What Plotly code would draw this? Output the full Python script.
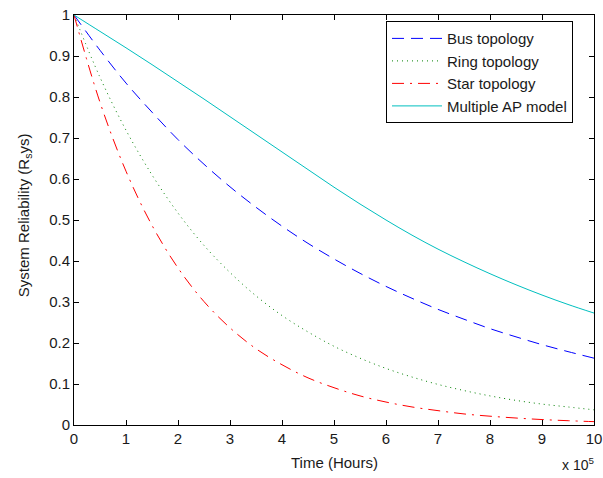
import plotly.graph_objects as go

# Time in units of 10^5 hours
time_1e5 = [0, 0.5, 1, 1.5, 2, 2.5, 3, 3.5, 4, 4.5, 5, 5.5, 6, 6.5, 7, 7.5, 8, 8.5, 9, 9.5, 10]

bus = [1, 0.914, 0.834, 0.763, 0.696, 0.636, 0.581, 0.531, 0.485, 0.443, 0.405,
       0.370, 0.338, 0.309, 0.282, 0.258, 0.235, 0.215, 0.196, 0.179, 0.163]
ring = [1, 0.848, 0.719, 0.610, 0.517, 0.438, 0.372, 0.315, 0.267, 0.227, 0.192,
        0.163, 0.138, 0.117, 0.099, 0.084, 0.071, 0.060, 0.051, 0.044, 0.037]
star = [1, 0.787, 0.619, 0.487, 0.383, 0.301, 0.237, 0.186, 0.147, 0.115, 0.091,
        0.071, 0.056, 0.044, 0.035, 0.027, 0.0215, 0.017, 0.0133, 0.0105, 0.0082]
multi_ap = [1, 0.960, 0.920, 0.879, 0.837, 0.795, 0.752, 0.709, 0.666, 0.623, 0.580,
            0.539, 0.500, 0.463, 0.429, 0.398, 0.369, 0.342, 0.317, 0.294, 0.273]

names = ["Bus topology", "Ring topology", "Star topology", "Multiple AP model"]
x_ticks = list(range(0, 11))
y_ticks = [0, 0.1, 0.2, 0.3, 0.4, 0.5, 0.6, 0.7, 0.8, 0.9, 1]

FONT = "Liberation Sans, Arial, sans-serif"
TXT = "#1a1a1a"

fig = go.Figure()
styles = [
    (bus, "#0000FF", "12px,7px"),
    (ring, "#008000", "1px,4px"),
    (star, "#FF0000", "12px,6px,2px,6px"),
    (multi_ap, "#00BFBF", "solid"),
]
for (vals, color, dash), name in zip(styles, names):
    fig.add_trace(go.Scatter(
        x=time_1e5, y=vals, mode="lines", name=name,
        line=dict(color=color, width=1, dash=dash, shape="spline"),
    ))

axis_common = dict(
    showgrid=False, zeroline=False, showline=True, linecolor="#000000", linewidth=1,
    mirror="ticks", ticks="inside", ticklen=5, tickcolor="#000000",
    tickfont=dict(family=FONT, size=15, color=TXT),
)
fig.update_xaxes(range=[0, 10], tickvals=x_ticks, ticktext=[str(v) for v in x_ticks], **axis_common)
fig.update_yaxes(range=[0, 1], tickvals=y_ticks, ticktext=[("%g" % v) for v in y_ticks], **axis_common)

fig.update_layout(
    width=603, height=478,
    margin=dict(l=74, r=9, t=15, b=53, autoexpand=False),
    paper_bgcolor="white", plot_bgcolor="white",
    font=dict(family=FONT, size=15, color=TXT),
    showlegend=True,
    legend=dict(
        x=0.6, y=0.985, xanchor="left", yanchor="top",
        bordercolor="#000000", borderwidth=1, bgcolor="white",
        font=dict(family=FONT, size=15, color=TXT),
        tracegroupgap=0, itemwidth=50,
    ),
    annotations=[
        dict(text="Time (Hours)", xref="paper", yref="paper", x=0.5, y=-0.092,
             showarrow=False, xanchor="center", yanchor="middle",
             font=dict(family=FONT, size=15, color=TXT)),
        dict(text="System Reliability (R<sub>s</sub>ys)", xref="paper", yref="paper",
             x=-0.096, y=0.512, textangle=-90, showarrow=False,
             xanchor="center", yanchor="middle",
             font=dict(family=FONT, size=15, color=TXT)),
        dict(text="x 10<sup>5</sup>", xref="paper", yref="paper", x=0.97, y=-0.095,
             showarrow=False, xanchor="center", yanchor="middle",
             font=dict(family=FONT, size=14, color=TXT)),
    ],
)

fig.write_html("out.html", config={"displayModeBar": False},
               post_script="document.body.style.margin='0px';")
